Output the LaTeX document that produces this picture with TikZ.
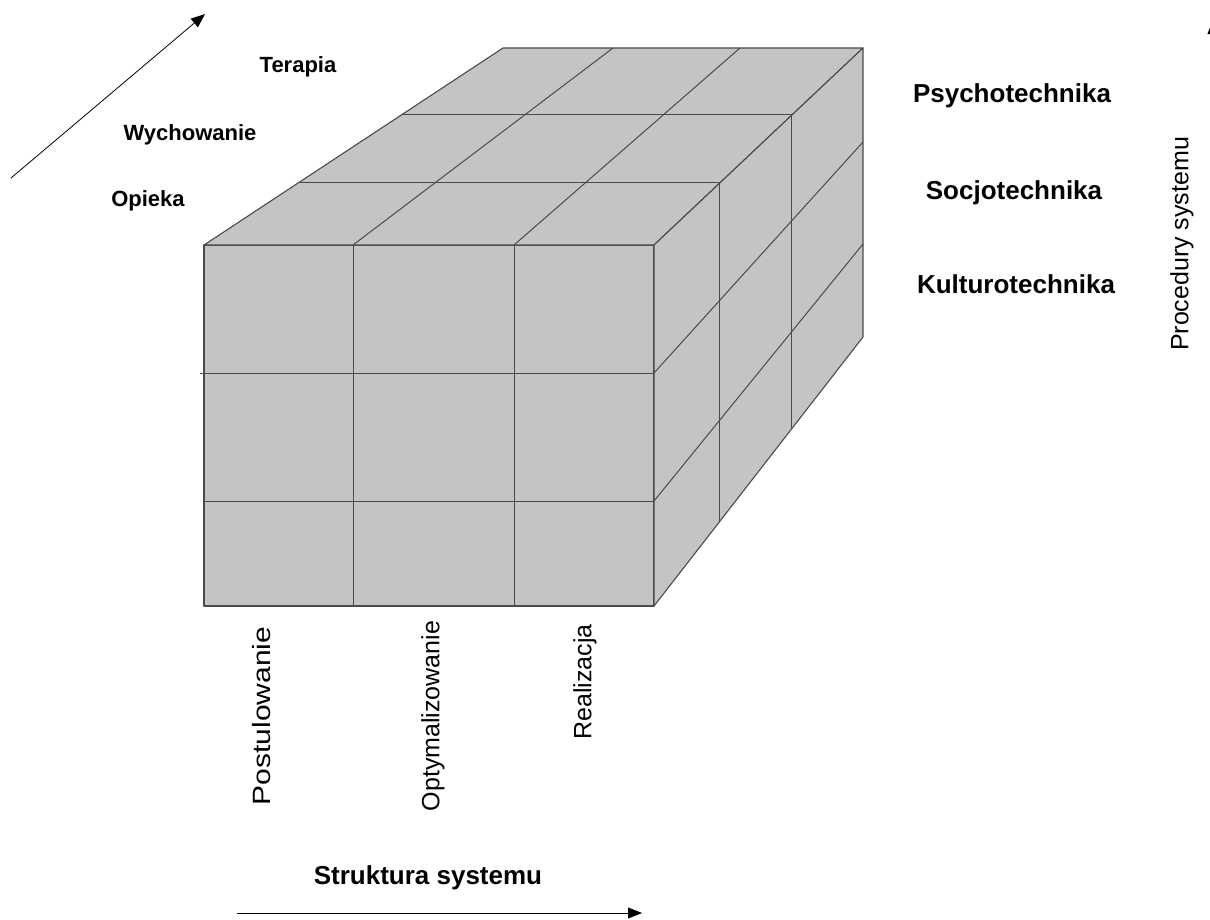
\documentclass[tikz,border=0pt]{standalone}
\usepackage{fontspec}
\setmainfont{Liberation Sans}
\usetikzlibrary{arrows.meta,calc}
\definecolor{cubefill}{HTML}{C4C4C4}
\definecolor{cubeline}{HTML}{4A4A4A}
\begin{document}
\begin{tikzpicture}[x=1pt,y=-1pt,
  face/.style={fill=cubefill,draw=cubeline,line width=1.1pt,line join=round},
  gridline/.style={draw=cubeline,line width=1pt},
  rlbl/.style={font=\fontsize{26}{30}\selectfont\bfseries,inner sep=0pt},
  llbl/.style={font=\fontsize{22}{26}\selectfont\bfseries,inner sep=0pt},
  vlbl/.style={font=\fontsize{25}{30}\selectfont,rotate=90,inner sep=0pt},
  axis/.style={-{Triangle[length=14pt,width=11pt]},line width=0.8pt}]
\useasboundingbox (0,0) rectangle (1210,919);
\begin{scope}
\clip (0,0) rectangle (1210,919);
% cube corners
\coordinate (FTL) at (204,245);
\coordinate (FTR) at (654,245);
\coordinate (FBR) at (654,606);
\coordinate (FBL) at (204,606);
\coordinate (BTL) at (503,48);
\coordinate (BTR) at (863,48);
\coordinate (BBR) at (863,337);
% faces
\draw[face] (FTL) -- (FTR) -- (FBR) -- (FBL) -- cycle;
\draw[face] (FTL) -- (FTR) -- (BTR) -- (BTL) -- cycle;
\draw[face] (FTR) -- (BTR) -- (BBR) -- (FBR) -- cycle;
% front grid
\coordinate (FV1t) at (353,245); \coordinate (FV1b) at (353,606);
\coordinate (FV2t) at (514,245); \coordinate (FV2b) at (514,606);
\draw[gridline] (FV1t) -- (FV1b);
\draw[gridline] (FV2t) -- (FV2b);
\coordinate (FH1l) at (200,373); \coordinate (FH1r) at (654,373);
\coordinate (FH2l) at (204,501); \coordinate (FH2r) at (654,501);
\draw[gridline] (FH1l) -- (FH1r);
\draw[gridline] (FH2l) -- (FH2r);
% top grid
\coordinate (TB1) at (613,48); \coordinate (TB2) at (740,48);
\draw[gridline] (FV1t) -- (TB1);
\draw[gridline] (FV2t) -- (TB2);
\coordinate (TL1) at ($(FTL)!0.315!(BTL)$); \coordinate (TR1) at ($(FTR)!0.315!(BTR)$);
\coordinate (TL2) at ($(FTL)!0.66!(BTL)$); \coordinate (TR2) at ($(FTR)!0.66!(BTR)$);
\draw[gridline] (TL1) -- (TR1);
\draw[gridline] (TL2) -- (TR2);
% right grid
\coordinate (RB1) at ($(FBR)!0.315!(BBR)$);
\coordinate (RB2) at ($(FBR)!0.66!(BBR)$);
\draw[gridline] (TR1) -- (RB1);
\draw[gridline] (TR2) -- (RB2);
\coordinate (RD1) at (863,142); \coordinate (RD2) at (863,244);
\draw[gridline] (FH1r) -- (RD1);
\draw[gridline] (FH2r) -- (RD2);
% axes
\coordinate (dTail) at (11,178); \coordinate (dHead) at (205,14);
\draw[axis] (dTail) -- (dHead);
\coordinate (sTail) at (237,913); \coordinate (sHead) at (642,913);
\draw[axis] (sTail) -- (sHead);
\coordinate (pTail) at (1213,400); \coordinate (pHead) at (1213,20);
\draw[axis] (pTail) -- (pHead);
\end{scope}
% labels
\node[llbl] (terapia) at (298,67) {Terapia};
\node[llbl] (wych) at (190,135) {Wychowanie};
\node[llbl] (opieka) at (148,201) {Opieka};
\node[rlbl] (psycho) at (1012,96) {Psychotechnika};
\node[rlbl] (socjo) at (1014,193) {Socjotechnika};
\node[rlbl] (kultu) at (1016,284) {Kulturotechnika};
\node[vlbl] (proc) at (1182,244) {Procedury systemu};
\node[rlbl] (strukt) at (428,878) {Struktura systemu};
\node[vlbl,xscale=1.2] (postul) at (262,716) {Postulowanie};
\node[vlbl] (optym) at (433,716) {Optymalizowanie};
\node[vlbl] (realiz) at (585,682) {Realizacja};
\end{tikzpicture}
\end{document}
